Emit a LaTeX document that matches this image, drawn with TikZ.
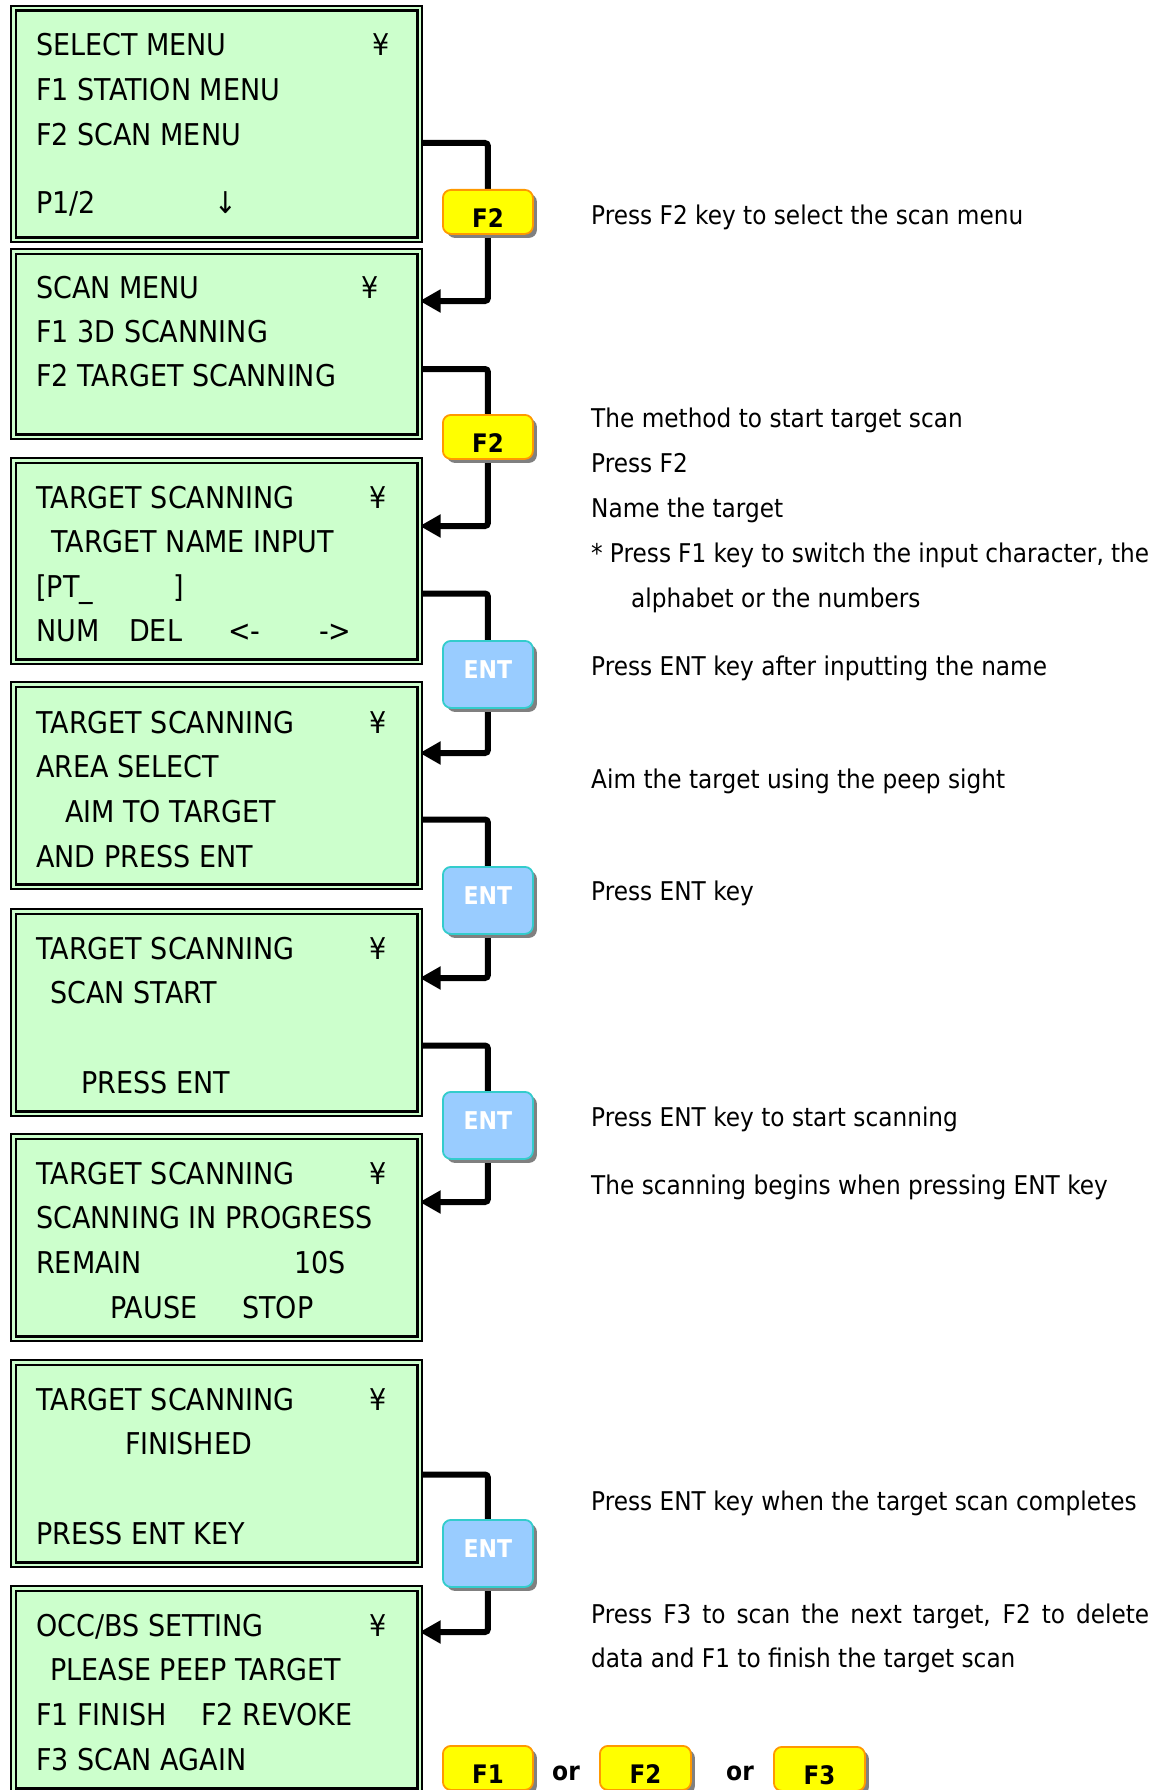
\documentclass[tikz,border=0pt]{standalone}
\usepackage{fontspec}
\setmainfont{DejaVu Sans}[FakeStretch=0.9]
\usetikzlibrary{arrows.meta,shadows,calc}
\pgfdeclarelayer{back}
\pgfdeclarelayer{wires}
\pgfsetlayers{back,wires,main}
\definecolor{lcdgreen}{HTML}{CCFFCC}
\definecolor{keyyellow}{HTML}{FFFF00}
\definecolor{keyorange}{HTML}{FF9900}
\definecolor{keyblue}{HTML}{99CCFF}
\definecolor{keyteal}{HTML}{33CCCC}
\definecolor{keyshadow}{HTML}{808080}
\begin{document}
\begin{tikzpicture}[x=1pt,y=-1pt,
  screen/.style={draw=black, line width=2.2pt, double=lcdgreen, double distance=2.3pt,
    fill=lcdgreen, anchor=north west, minimum width=406.3pt, outer sep=0pt, inner sep=0pt},
  lt/.style={anchor=base west, inner sep=0pt, font=\fontsize{30}{36}\selectfont},
  yen/.style={anchor=base, inner sep=0pt, font=\fontsize{30}{36}\selectfont},
  rt/.style={anchor=base west, inner sep=0pt, font=\fontsize{25.8}{30}\selectfont},
  keybase/.style={line width=1.8pt, rounded corners=8pt, minimum width=90pt,
    anchor=north west, inner sep=0pt,
    drop shadow={shadow xshift=4pt, shadow yshift=-4pt, fill=keyshadow, opacity=1}},
  fkey/.style={keybase, draw=keyorange, fill=keyyellow, minimum height=44pt},
  entkey/.style={keybase, draw=keyteal, fill=keyblue, minimum height=67pt},
  flab/.style={anchor=base, inner sep=0pt, font=\fontsize{25.5}{30}\selectfont\bfseries},
  entlab/.style={anchor=base, inner sep=0pt, text=white, font=\fontsize{24.5}{30}\selectfont\bfseries},
  orlab/.style={anchor=base, inner sep=0pt, font=\fontsize{26}{30}\selectfont\bfseries},
  conn/.style={line width=6pt, rounded corners=3pt, -{Triangle[length=21pt,width=22pt]}}
]
\useasboundingbox (0,0) rectangle (1163,1790);
\begin{pgfonlayer}{back}
\fill[white] (0,0) rectangle (1163,1790);
\end{pgfonlayer}

% ---------- screens ----------
\node[screen, minimum height=231.3pt] (s1) at (13.35,8.35) {};
\node[screen, minimum height=185.3pt] (s2) at (13.35,251.35) {};
\node[screen, minimum height=201.3pt] (s3) at (13.35,460.35) {};
\node[screen, minimum height=202.3pt] (s4) at (13.35,684.35) {};
\node[screen, minimum height=202.3pt] (s5) at (13.35,911.35) {};
\node[screen, minimum height=202.3pt] (s6) at (13.35,1136.35) {};
\node[screen, minimum height=202.3pt] (s7) at (13.35,1362.35) {};
\node[screen, minimum height=202.3pt] (s8) at (13.35,1588.35) {};

% screen 1
\node[lt] (a1) at (36,56) {SELECT MENU};
\node[yen] (a1y) at (381,56) {¥};
\node[lt] (a2) at (36,101) {F1 STATION MENU};
\node[lt] (a3) at (36,146) {F2 SCAN MENU};
\node[lt] (a4) at (36,214) {P1/2};
\node[yen] (a4d) at (226,214) {↓};
% screen 2
\node[lt] (b1) at (36,298) {SCAN MENU};
\node[yen] (b1y) at (370,298) {¥};
\node[lt] (b2) at (36,342) {F1 3D SCANNING};
\node[lt] (b3) at (36,386) {F2 TARGET SCANNING};
% screen 3
\node[lt] (c1) at (36,508) {TARGET SCANNING};
\node[yen] (c1y) at (378,508) {¥};
\node[lt] (c2) at (51,552) {TARGET NAME INPUT};
\node[lt] (c3) at (36,597) {[PT\_};
\node[lt] (c3b) at (173,597) {]};
\node[lt] (c4) at (36,641) {NUM};
\node[lt] (c4b) at (129,641) {DEL};
\node[lt] (c4c) at (228,641) {<-};
\node[lt] (c4d) at (319,641) {->};
% screen 4
\node[lt] (d1) at (36,733) {TARGET SCANNING};
\node[yen] (d1y) at (378,733) {¥};
\node[lt] (d2) at (36,777) {AREA SELECT};
\node[lt] (d3) at (65,822) {AIM TO TARGET};
\node[lt] (d4) at (36,867) {AND PRESS ENT};
% screen 5
\node[lt] (e1) at (36,959) {TARGET SCANNING};
\node[yen] (e1y) at (378,959) {¥};
\node[lt] (e2) at (50,1003) {SCAN START};
\node[lt] (e3) at (81,1093) {PRESS ENT};
% screen 6
\node[lt] (f1) at (36,1184) {TARGET SCANNING};
\node[yen] (f1y) at (378,1184) {¥};
\node[lt] (f2) at (36,1228) {SCANNING IN PROGRESS};
\node[lt] (f3) at (36,1273) {REMAIN};
\node[lt] (f3b) at (294,1273) {10S};
\node[lt] (f4) at (110,1318) {PAUSE};
\node[lt] (f4b) at (242,1318) {STOP};
% screen 7
\node[lt] (g1) at (36,1410) {TARGET SCANNING};
\node[yen] (g1y) at (378,1410) {¥};
\node[lt] (g2) at (125,1454) {FINISHED};
\node[lt] (g3) at (36,1544) {PRESS ENT KEY};
% screen 8
\node[lt] (h1) at (36,1636) {OCC/BS SETTING};
\node[yen] (h1y) at (378,1636) {¥};
\node[lt] (h2) at (50,1680) {PLEASE PEEP TARGET};
\node[lt] (h3) at (36,1725) {F1 FINISH};
\node[lt] (h3b) at (201,1725) {F2 REVOKE};
\node[lt] (h4) at (36,1770) {F3 SCAN AGAIN};

% ---------- keys ----------
\node[fkey] (k1) at (442,189) {};
\node[flab] (k1l) at ($(k1.north)+(0,38)$) {F2};
\node[fkey] (k2) at (442,414) {};
\node[flab] (k2l) at ($(k2.north)+(0,38)$) {F2};
\node[entkey] (k3) at (442,640) {};
\node[entlab] (k3l) at ($(k3.north)+(0,38)$) {ENT};
\node[entkey] (k4) at (442,866) {};
\node[entlab] (k4l) at ($(k4.north)+(0,38)$) {ENT};
\node[entkey] (k5) at (442,1091) {};
\node[entlab] (k5l) at ($(k5.north)+(0,38)$) {ENT};
\node[entkey] (k6) at (442,1519) {};
\node[entlab] (k6l) at ($(k6.north)+(0,38)$) {ENT};

\node[fkey] (b1k) at (442,1745) {};
\node[flab] (b1kl) at ($(b1k.north)+(0,38)$) {F1};
\node[orlab] (or1) at (566,1780) {or};
\node[fkey, minimum width=91pt] (b2k) at (599,1745) {};
\node[flab] (b2kl) at ($(b2k.north)+(0,38)$) {F2};
\node[orlab] (or2) at (740,1780) {or};
\node[fkey, minimum width=91pt] (b3k) at (773,1746) {};
\node[flab] (b3kl) at ($(b3k.north)+(0,38)$) {F3};

% ---------- connectors ----------
\begin{pgfonlayer}{wires}
\draw[conn] (s1.east |- 0,143) -| (k1.center) |- (s2.east |- 0,301);
\draw[conn] (s2.east |- 0,369) -| (k2.center) |- (s3.east |- 0,526);
\draw[conn] (s3.east |- 0,593.5) -| (k3.center) |- (s4.east |- 0,753);
\draw[conn] (s4.east |- 0,819.5) -| (k4.center) |- (s5.east |- 0,978);
\draw[conn] (s5.east |- 0,1045.5) -| (k5.center) |- (s6.east |- 0,1202);
\draw[conn] (s7.east |- 0,1474.5) -| (k6.center) |- (s8.east |- 0,1632);
\end{pgfonlayer}

% ---------- explanations ----------
\node[rt] (r1) at (591,224) {Press F2 key to select the scan menu};
\node[rt] (r2) at (591,427) {The method to start target scan};
\node[rt] (r3) at (591,472) {Press F2};
\node[rt] (r4) at (591,517) {Name the target};
\node[rt] (r5) at (591,562) {\makebox[558pt][s]{* Press F1 key to switch the input character, the}};
\node[rt] (r6) at (631,607) {alphabet or the numbers};
\node[rt] (r7) at (591,675) {Press ENT key after inputting the name};
\node[rt] (r8) at (591,788) {Aim the target using the peep sight};
\node[rt] (r9) at (591,900) {Press ENT key};
\node[rt] (r10) at (591,1126) {Press ENT key to start scanning};
\node[rt] (r11) at (591,1194) {The scanning begins when pressing ENT key};
\node[rt] (r12) at (591,1510) {Press ENT key when the target scan completes};
\node[rt] (r13) at (591,1623) {\makebox[558pt][s]{Press F3 to scan the next target, F2 to delete}};
\node[rt] (r14) at (591,1667) {data and F1 to finish the target scan};
\end{tikzpicture}
\end{document}
